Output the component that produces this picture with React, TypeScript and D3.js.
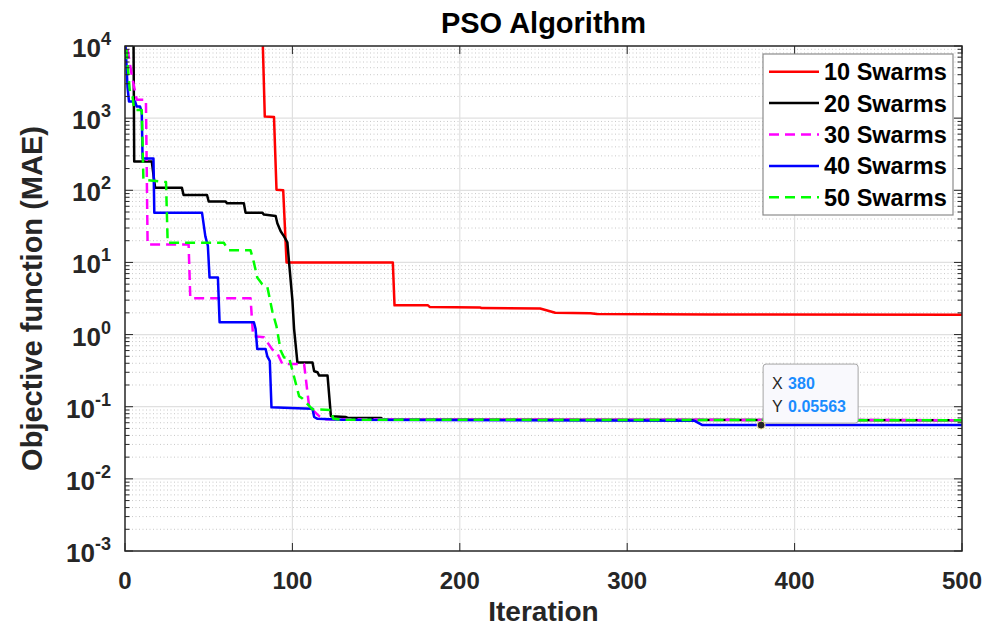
import React, { useEffect, useRef } from 'react'
import * as d3 from 'd3'

// convergence curves (iteration, best MAE)
const swarm10Iter = [0, 82, 83.5, 89, 90.5, 94.5, 96.5, 160, 161, 181, 182, 212, 213, 248, 257, 278, 282, 350, 500]
const swarm10Mae = [5e4, 2e4, 1050, 1040, 102, 100, 10, 10, 2.54, 2.54, 2.42, 2.38, 2.33, 2.3, 2.01, 1.98, 1.93, 1.9, 1.88]

const swarm20Iter = [0, 5, 5.5, 16, 18, 34, 35, 49, 50, 60, 61, 71, 72, 82, 83, 90, 91, 93, 95, 97, 98, 100, 101, 103, 112, 113, 115, 116, 121, 123, 132, 133, 153, 154, 500]
const swarm20Mae = [8e4, 3e4, 250, 250, 108, 108, 86, 86, 70, 70, 66, 66, 49, 49, 46, 44, 35, 27, 23, 19, 10, 3, 1.2, 0.41, 0.41, 0.31, 0.3, 0.27, 0.27, 0.074, 0.072, 0.07, 0.07, 0.066, 0.065]

const swarm30Iter = [0, 4, 7, 12.5, 13.5, 38, 39, 75, 76.5, 83, 88, 91, 94, 107, 110, 116, 120, 500]
const swarm30Mae = [1.5e4, 4000, 1800, 1800, 17.7, 17.7, 3.2, 3.2, 0.95, 0.92, 0.62, 0.55, 0.39, 0.39, 0.1, 0.074, 0.067, 0.065]

const swarm40Iter = [0, 1.5, 2.4, 6, 7, 9, 10, 10.5, 17, 17.5, 46, 48, 49.5, 50.5, 55.5, 56.5, 77, 78, 79, 84, 85, 86.5, 87.5, 103, 112, 113, 115, 130, 340, 345, 500]
const swarm40Mae = [1.5e4, 2700, 1700, 1700, 1450, 1450, 1220, 275, 275, 49, 49, 23, 17, 6.2, 6.2, 1.48, 1.48, 1.2, 0.63, 0.63, 0.5, 0.43, 0.098, 0.095, 0.094, 0.072, 0.068, 0.066, 0.064, 0.0556, 0.0556]

const swarm50Iter = [0, 1, 3, 4.5, 5.5, 10, 11, 24.5, 25.5, 59, 62, 75, 77, 79, 82, 85, 88, 90.5, 93, 95, 98, 104, 106, 112, 123, 124.5, 130, 500]
const swarm50Mae = [1.5e4, 8000, 2240, 2000, 1300, 1300, 140, 130, 18.7, 18.7, 14.7, 14.7, 10, 6.2, 5, 4.6, 2.1, 1.3, 0.6, 0.48, 0.48, 0.14, 0.13, 0.092, 0.09, 0.068, 0.066, 0.065]

const seriesNames = ['10 Swarms', '20 Swarms', '30 Swarms', '40 Swarms', '50 Swarms']
const seriesIters = [swarm10Iter, swarm20Iter, swarm30Iter, swarm40Iter, swarm50Iter]
const seriesValues = [swarm10Mae, swarm20Mae, swarm30Mae, swarm40Mae, swarm50Mae]
const seriesColors = ['#ff0000', '#000000', '#ff00ff', '#0000ff', '#00ff00']
const seriesDash = [null, null, '10,6', null, '10,6']

const xTicks = [0, 100, 200, 300, 400, 500]
const yExponents = [-3, -2, -1, 0, 1, 2, 3, 4]

const tipIteration = 380
const tipValue = 0.05563

const FONT = '"Liberation Sans", Arial, Helvetica, sans-serif'

const App = () => {
    const svgRef = useRef(null)

    useEffect(() => {
        const W = 987, H = 629
        const left = 125, right = 962, top = 46, bottom = 551

        const svg = d3.select(svgRef.current)
        svg.selectAll('*').remove()
        svg.attr('width', W).attr('height', H)
            .style('font-family', FONT)

        svg.append('rect').attr('width', W).attr('height', H).attr('fill', '#fff')

        const x = d3.scaleLinear().domain([0, 500]).range([left, right])
        const y = d3.scaleLog().domain([1e-3, 1e4]).range([bottom, top])

        svg.append('defs').append('clipPath').attr('id', 'plot-clip')
            .append('rect')
            .attr('x', left).attr('y', top)
            .attr('width', right - left).attr('height', bottom - top)

        // minor grid (dotted)
        const minorVals = []
        yExponents.slice(0, -1).forEach(e => {
            for (let k = 2; k <= 9; k++) minorVals.push(k * Math.pow(10, e))
        })
        const grid = svg.append('g')
        grid.selectAll('line.minor').data(minorVals).join('line')
            .attr('x1', left).attr('x2', right)
            .attr('y1', d => y(d)).attr('y2', d => y(d))
            .attr('stroke', '#c8c8c8').attr('stroke-width', 1)
            .attr('stroke-dasharray', '1,2.5')

        // major grid
        grid.selectAll('line.majy').data(yExponents.slice(1, -1)).join('line')
            .attr('x1', left).attr('x2', right)
            .attr('y1', e => y(Math.pow(10, e))).attr('y2', e => y(Math.pow(10, e)))
            .attr('stroke', '#e0e0e0').attr('stroke-width', 1.2)
        grid.selectAll('line.majx').data(xTicks.slice(1, -1)).join('line')
            .attr('x1', d => x(d)).attr('x2', d => x(d))
            .attr('y1', top).attr('y2', bottom)
            .attr('stroke', '#e0e0e0').attr('stroke-width', 1.2)

        // curves
        const line = d3.line().x(d => x(d[0])).y(d => y(d[1]))
        const curves = svg.append('g').attr('clip-path', 'url(#plot-clip)')
        seriesNames.forEach((name, i) => {
            const pts = seriesIters[i].map((it, j) => [it, seriesValues[i][j]])
            curves.append('path')
                .datum(pts)
                .attr('d', line)
                .attr('fill', 'none')
                .attr('stroke', seriesColors[i])
                .attr('stroke-width', 2.5)
                .attr('stroke-linejoin', 'round')
                .attr('stroke-dasharray', seriesDash[i])
        })

        // ticks (inside, both sides)
        const axisColor = '#262626'
        const ticks = svg.append('g').attr('stroke', axisColor).attr('stroke-width', 1)
        xTicks.forEach(t => {
            ticks.append('line').attr('x1', x(t)).attr('x2', x(t)).attr('y1', bottom).attr('y2', bottom - 8)
            ticks.append('line').attr('x1', x(t)).attr('x2', x(t)).attr('y1', top).attr('y2', top + 8)
        })
        yExponents.forEach(e => {
            const yy = y(Math.pow(10, e))
            ticks.append('line').attr('x1', left).attr('x2', left + 8).attr('y1', yy).attr('y2', yy)
            ticks.append('line').attr('x1', right).attr('x2', right - 8).attr('y1', yy).attr('y2', yy)
        })
        minorVals.forEach(v => {
            const yy = y(v)
            ticks.append('line').attr('x1', left).attr('x2', left + 4.5).attr('y1', yy).attr('y2', yy)
            ticks.append('line').attr('x1', right).attr('x2', right - 4.5).attr('y1', yy).attr('y2', yy)
        })

        // frame
        svg.append('rect')
            .attr('x', left).attr('y', top)
            .attr('width', right - left).attr('height', bottom - top)
            .attr('fill', 'none').attr('stroke', axisColor).attr('stroke-width', 1.5)

        // tick labels
        svg.append('g').selectAll('text').data(xTicks).join('text')
            .attr('x', d => x(d)).attr('y', 589)
            .attr('text-anchor', 'middle')
            .attr('font-size', 24).attr('font-weight', 'bold').attr('fill', axisColor)
            .text(d => d)

        const yLab = svg.append('g').attr('font-weight', 'bold').attr('fill', axisColor)
        yExponents.forEach(e => {
            const t = yLab.append('text')
                .attr('x', 111).attr('y', y(Math.pow(10, e)) + 11)
                .attr('text-anchor', 'end')
            t.append('tspan').attr('font-size', 26).text('10')
            t.append('tspan').attr('font-size', 18).attr('dy', -12).text(e)
        })

        // axis titles
        svg.append('text')
            .attr('x', (left + right) / 2).attr('y', 621)
            .attr('text-anchor', 'middle')
            .attr('font-size', 28).attr('font-weight', 'bold').attr('fill', axisColor)
            .text('Iteration')
        svg.append('text')
            .attr('transform', `translate(42, ${(top + bottom) / 2}) rotate(-90)`)
            .attr('text-anchor', 'middle')
            .attr('font-size', 29).attr('font-weight', 'bold').attr('fill', axisColor)
            .text('Objective function (MAE)')
        svg.append('text')
            .attr('x', (left + right) / 2).attr('y', 33)
            .attr('text-anchor', 'middle')
            .attr('font-size', 29).attr('font-weight', 'bold').attr('fill', '#000')
            .text('PSO Algorithm')

        // legend
        const lg = svg.append('g').attr('transform', 'translate(763, 54)')
        lg.append('rect').attr('width', 190).attr('height', 161)
            .attr('fill', '#fff').attr('stroke', '#8c8c8c').attr('stroke-width', 1.2)
        seriesNames.forEach((name, i) => {
            const yy = 17.7 + i * 31.4
            lg.append('line').attr('x1', 6).attr('x2', 56).attr('y1', yy).attr('y2', yy)
                .attr('stroke', seriesColors[i]).attr('stroke-width', 2.5)
                .attr('stroke-dasharray', seriesDash[i])
            lg.append('text').attr('x', 61).attr('y', yy).attr('dy', '0.36em')
                .attr('font-size', 23.5).attr('font-weight', 'bold').attr('fill', '#000')
                .text(name)
        })

        // data tip
        const tx = x(tipIteration), ty = y(tipValue)
        const tip = svg.append('g')
        tip.append('rect').attr('x', tx + 2).attr('y', ty - 61).attr('width', 95).attr('height', 59)
            .attr('rx', 3).attr('fill', '#f9f9fd').attr('stroke', '#a6a6a6').attr('stroke-width', 1)
        const rows = [['X', String(tipIteration)], ['Y', String(tipValue)]]
        rows.forEach((r, i) => {
            const t = tip.append('text').attr('x', tx + 11).attr('y', ty - 36 + i * 22.5)
                .attr('font-size', 16)
            t.append('tspan').attr('fill', '#262626').text(r[0] + ' ')
            t.append('tspan').attr('x', tx + 27).attr('fill', '#1a8cff').attr('font-weight', 'bold').text(r[1])
        })
        tip.append('circle').attr('cx', tx).attr('cy', ty).attr('r', 4)
            .attr('fill', '#262626').attr('stroke', '#f5e6a0').attr('stroke-width', 1)

    }, [])

    return (
        <div style={{ position: 'absolute', left: 0, top: 0 }}>
            <svg ref={svgRef} style={{ display: 'block' }}></svg>
        </div>
    )
}

export default App
